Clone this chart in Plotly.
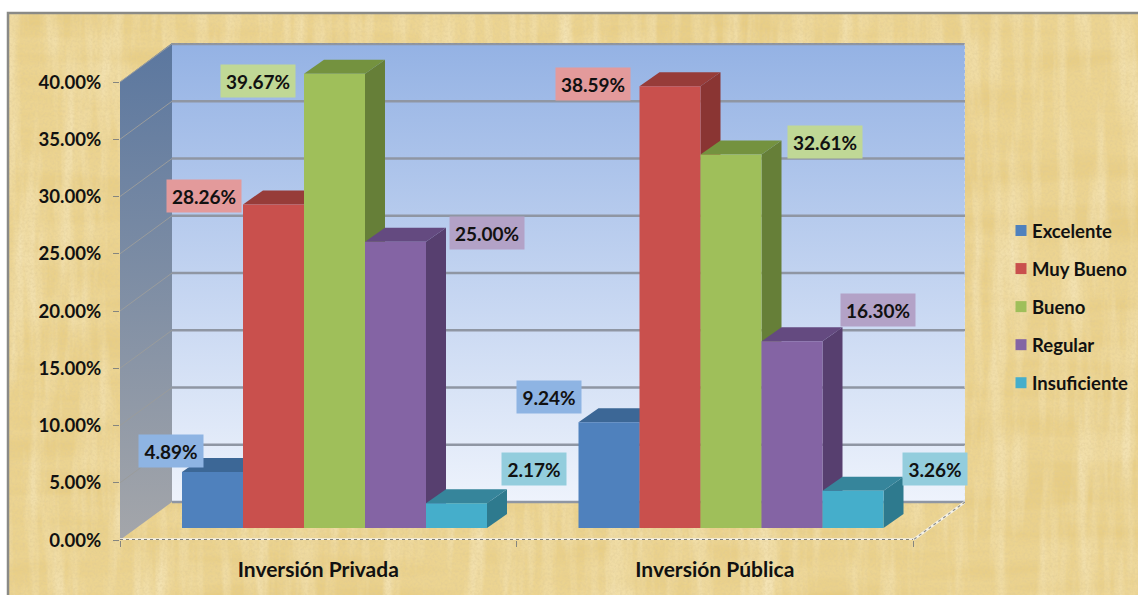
import base64
import plotly.graph_objects as go

categories = ["Inversión Privada", "Inversión Pública"]
series_names = ["Excelente", "Muy Bueno", "Bueno", "Regular", "Insuficiente"]
excelente = [4.89, 9.24]
muy_bueno = [28.26, 38.59]
bueno = [39.67, 32.61]
regular = [25.00, 16.30]
insuficiente = [2.17, 3.26]
y_ticks = [0, 5, 10, 15, 20, 25, 30, 35, 40]

series_values = [excelente, muy_bueno, bueno, regular, insuficiente]

# style and layout constants
W, H = 1138, 595
L, R, T, B = 120, 173, 43, 55
PX_X = 396.5   # pixels per category
PX_Y = 11.45   # pixels per percent
FONT = "Lato"
front = ["#4f81bd", "#c9504d", "#9fbf5a", "#8464a4", "#45aecb"]
top = ["#3c6796", "#973c39", "#74923f", "#644a80", "#36859b"]
side = ["#33598a", "#8a3533", "#667f38", "#573f6f", "#2e7a8e"]
label_bg = ["#8eb4e3", "#e39a9b", "#c0d896", "#b3a2c7", "#93cddd"]
wall_dx, wall_dy = 52 / PX_X, 38 / PX_Y
bar_dx, bar_dy = 20 / PX_X, 14 / PX_Y
bar_w = 61 / PX_X
bar_start = 62 / PX_X
bar_base = 12 / PX_Y
x_max = (W - L - R) / PX_X
y_max = (H - T - B) / PX_Y
# label centre offset from the bar's top front centre, in pixels [series][category]
label_shift = [
    [(-42, 21), (-60, 25)],
    [(-70, 8), (-77, 2)],
    [(-77, -7), (94, 13)],
    [(91, 9), (86, 31)],
    [(77, 34), (82, 22)],
]


def poly(xs, ys, fill, **kw):
    return go.Scatter(x=xs + xs[:1], y=ys + ys[:1], mode="lines", fill="toself",
                      fillcolor=fill, line=dict(width=0), hoverinfo="skip",
                      showlegend=False, **kw)


def line(xs, ys, color, width, dash="solid"):
    return go.Scatter(x=xs, y=ys, mode="lines", cliponaxis=False,
                      line=dict(color=color, width=width, dash=dash),
                      hoverinfo="skip", showlegend=False)


fig = go.Figure()

# back wall and side wall
fig.add_trace(go.Scatter(
    x=[wall_dx, x_max, x_max, wall_dx, wall_dx],
    y=[wall_dy, wall_dy, y_max, y_max, wall_dy],
    mode="lines", fill="toself", line=dict(width=0), hoverinfo="skip", showlegend=False,
    fillgradient=dict(type="vertical", start=wall_dy, stop=y_max,
                      colorscale=[[0, "#eef3fc"], [1, "#94b2e4"]])))
fig.add_trace(go.Scatter(
    x=[0, wall_dx, wall_dx, 0, 0],
    y=[0, wall_dy, y_max, y_ticks[-1], 0],
    mode="lines", fill="toself", line=dict(width=0), hoverinfo="skip", showlegend=False,
    fillgradient=dict(type="vertical", start=0, stop=y_max,
                      colorscale=[[0, "#a4a6aa"], [1, "#5b779f"]])))
for t in y_ticks:
    fig.add_trace(line([wall_dx, x_max], [t + wall_dy, t + wall_dy], "#8f96a3", 2.6))
    if t > 0:
        fig.add_trace(line([0, wall_dx], [t, t + wall_dy], "#9a9c9c", 1))

# floor edges and front axis
fig.add_trace(line([x_max, 2], [wall_dy, 0], "#f4f1e6", 2.5))
fig.add_trace(line([x_max, 2], [wall_dy, 0], "#8f8f88", 1.2, "dot"))
fig.add_trace(line([0, 2], [0, 0], "#f4f1e6", 3.5))
fig.add_trace(line([0, 2], [0, 0], "#7f7f7a", 2, "dot"))
fig.add_trace(line([x_max, x_max], [wall_dy, y_max], "#dfe3ea", 1, "dot"))
fig.add_trace(line([wall_dx, x_max], [y_max, y_max], "#8f8f8f", 1, "dot"))

# bars, painted left to right so each front face covers its neighbour's side
annotations = []
for c, cat in enumerate(categories):
    for s, name in enumerate(series_names):
        v = series_values[s][c]
        x0 = c + bar_start + s * bar_w
        x1 = x0 + bar_w
        y0 = bar_base
        y1 = bar_base + v
        fig.add_trace(poly([x1, x1 + bar_dx, x1 + bar_dx, x1],
                           [y0, y0 + bar_dy, y1 + bar_dy, y1], side[s]))
        fig.add_trace(poly([x0, x1, x1 + bar_dx, x0 + bar_dx],
                           [y1, y1, y1 + bar_dy, y1 + bar_dy], top[s]))
        fig.add_trace(poly([x0, x1, x1, x0], [y0, y0, y1, y1], front[s]))
        sx, sy = label_shift[s][c]
        text = f"{v:.2f}%"
        annotations.append(dict(
            x=(x0 + x1) / 2, y=y1, xref="x", yref="y", text=text, showarrow=False,
            xshift=sx, yshift=sy, width=72 if len(text) == 6 else 62, height=30,
            align="center", valign="middle", bgcolor=label_bg[s],
            font=dict(family=FONT, size=19, color="#111111", weight="bold")))

# legend entries
for s, name in enumerate(series_names):
    fig.add_trace(go.Scatter(x=[None], y=[None], mode="markers", name=name, legendgroup=name,
                             marker=dict(symbol="square", size=11, color=front[s])))


def px_x(p):
    return (p - L) / (W - L - R)


def px_y(p):
    return (H - B - p) / (H - T - B)


def paper_svg():
    w, h = 1130, 582
    svg = f'''<svg xmlns="http://www.w3.org/2000/svg" width="{w}" height="{h}" viewBox="0 0 {w} {h}">
<defs>
<filter id="a" x="0" y="0" width="100%" height="100%"><feTurbulence type="fractalNoise" baseFrequency="0.005 0.04" numOctaves="4" seed="4"/><feColorMatrix type="matrix" values="0 0 0 0 0.78 0 0 0 0 0.58 0 0 0 0 0.20 1.5 0 0 0 -0.55"/></filter>
<filter id="b" x="0" y="0" width="100%" height="100%"><feTurbulence type="fractalNoise" baseFrequency="0.06 0.006" numOctaves="4" seed="11"/><feColorMatrix type="matrix" values="0 0 0 0 0.95 0 0 0 0 0.86 0 0 0 0 0.62 1.3 0 0 0 -0.55"/></filter>
<filter id="c" x="0" y="0" width="100%" height="100%"><feTurbulence type="fractalNoise" baseFrequency="0.4" numOctaves="2" seed="7"/><feColorMatrix type="matrix" values="0 0 0 0 0.72 0 0 0 0 0.58 0 0 0 0 0.30 1.0 0 0 0 -0.38"/></filter>
</defs>
<rect width="{w}" height="{h}" fill="#ecd491"/>
<rect width="{w}" height="{h}" filter="url(#a)"/>
<rect width="{w}" height="{h}" filter="url(#b)"/>
<rect width="{w}" height="{h}" filter="url(#c)"/>
</svg>'''
    return "data:image/svg+xml;base64," + base64.b64encode(svg.encode()).decode()


fig.update_layout(
    width=W, height=H, autosize=False,
    margin=dict(l=L, r=R, t=T, b=B, autoexpand=False),
    paper_bgcolor="white", plot_bgcolor="rgba(0,0,0,0)",
    font=dict(family=FONT, size=18, color="#111111"),
    annotations=annotations,
    images=[dict(source=paper_svg(), xref="paper", yref="paper", x=px_x(8), y=px_y(13),
                 sizex=px_x(1138) - px_x(8), sizey=px_y(13) - px_y(595), xanchor="left",
                 yanchor="top", sizing="stretch", layer="below")],
    shapes=[dict(type="rect", xref="paper", yref="paper", x0=px_x(8), x1=px_x(1150),
                 y0=px_y(13), y1=px_y(610), line=dict(color="#8a8a86", width=2.5), layer="below")],
    legend=dict(x=px_x(992), y=px_y(212), xanchor="left", yanchor="top",
                bgcolor="rgba(0,0,0,0)", tracegroupgap=11, itemclick=False,
                font=dict(family=FONT, size=18.5, color="#111111", weight="bold")),
    xaxis=dict(range=[0, x_max], tickmode="array", tickvals=[0.5, 1.5], ticktext=categories,
               ticks="", showgrid=False, zeroline=False, showline=False, fixedrange=True,
               ticklabelstandoff=15,
               tickfont=dict(family=FONT, size=21, color="#111111", weight="bold"),
               minor=dict(tickmode="array", tickvals=[0, 1, 2], ticks="outside", ticklen=6,
                          tickcolor="#85857f", tickwidth=1, showgrid=False)),
    yaxis=dict(range=[0, y_max], tickmode="array", tickvals=y_ticks,
               ticktext=[f"{t:.2f}%" for t in y_ticks], ticks="outside", ticklen=6,
               tickcolor="#85857f", showgrid=False, zeroline=False, showline=False,
               fixedrange=True, ticklabelstandoff=8,
               tickfont=dict(family=FONT, size=18.6, color="#111111", weight="bold")),
)

fig.write_html(
    "out.html", config={"displayModeBar": False},
    post_script=("document.body.style.margin='0';document.documentElement.style.overflow='hidden';"
                 "document.querySelectorAll('.legend .legendsymbols').forEach("
                 "function(n){n.setAttribute('transform','translate(9,0)');});"))
